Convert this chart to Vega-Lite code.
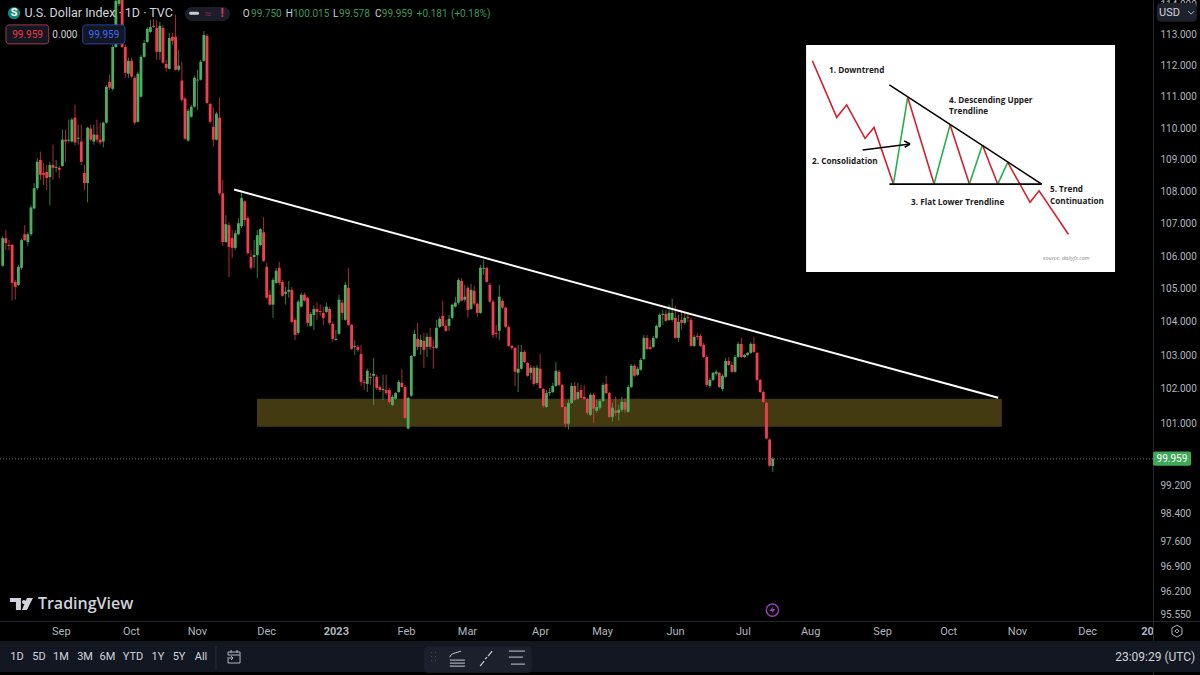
{
"$schema":"https://vega.github.io/schema/vega-lite/v6.json",
"width":1200,"height":675,"autosize":"none","padding":0,"background":"#000000",
"config":{"view":{"stroke":null},"text":{"font":"Roboto"}},
"datasets":{"candles":[
{"b":0,"o":105.70,"c":106.55,"h":106.61,"l":105.67},{"b":1,"o":106.55,"c":106.40,"h":106.80,"l":106.18},{"b":2,"o":106.34,"c":106.31,"h":106.49,"l":106.18},{"b":3,"o":106.34,"c":105.18,"h":106.37,"l":104.64},{"b":4,"o":105.21,"c":105.06,"h":105.27,"l":104.67},{"b":5,"o":105.12,"c":105.67,"h":105.73,"l":105.09},{"b":6,"o":105.64,"c":106.49,"h":106.55,"l":105.58},{"b":7,"o":106.67,"c":106.49,"h":106.95,"l":106.46},{"b":8,"o":106.43,"c":106.67,"h":106.73,"l":106.31},{"b":9,"o":106.67,"c":107.50,"h":107.57,"l":106.61},
{"b":10,"o":107.47,"c":108.10,"h":108.26,"l":107.44},{"b":11,"o":108.10,"c":108.93,"h":109.05,"l":108.04},{"b":12,"o":108.99,"c":108.52,"h":109.25,"l":108.36},{"b":13,"o":108.58,"c":108.52,"h":108.89,"l":108.20},{"b":14,"o":108.61,"c":108.42,"h":108.83,"l":108.04},{"b":15,"o":108.45,"c":108.83,"h":108.93,"l":107.57},{"b":16,"o":108.83,"c":108.74,"h":109.47,"l":108.36},{"b":17,"o":108.74,"c":108.77,"h":108.99,"l":108.61},{"b":18,"o":108.74,"c":108.68,"h":108.80,"l":108.42},{"b":19,"o":108.80,"c":109.63,"h":109.95,"l":108.77},
{"b":20,"o":109.63,"c":109.57,"h":109.95,"l":108.93},{"b":21,"o":109.60,"c":109.63,"h":110.27,"l":109.54},{"b":22,"o":109.57,"c":110.27,"h":110.33,"l":109.54},{"b":23,"o":110.33,"c":109.54,"h":110.74,"l":109.44},{"b":24,"o":109.66,"c":109.69,"h":110.11,"l":109.47},{"b":25,"o":109.57,"c":108.93,"h":110.11,"l":108.83},{"b":26,"o":108.58,"c":108.26,"h":108.83,"l":108.04},{"b":27,"o":108.26,"c":110.01,"h":110.04,"l":107.66},{"b":28,"o":109.98,"c":109.63,"h":110.11,"l":109.57},{"b":29,"o":109.57,"c":109.79,"h":110.11,"l":109.47},
{"b":30,"o":109.79,"c":109.63,"h":110.27,"l":109.54},{"b":31,"o":109.63,"c":109.54,"h":110.17,"l":109.47},{"b":32,"o":109.57,"c":110.17,"h":110.20,"l":109.38},{"b":33,"o":110.17,"c":111.32,"h":111.38,"l":110.14},{"b":34,"o":111.48,"c":111.29,"h":111.71,"l":111.22},{"b":35,"o":111.25,"c":112.61,"h":112.68,"l":111.19},{"b":36,"o":112.61,"c":114.12,"h":114.15,"l":112.58},{"b":37,"o":114.02,"c":114.15,"h":114.15,"l":113.95},{"b":38,"o":114.15,"c":112.61,"h":114.15,"l":112.58},{"b":39,"o":112.61,"c":111.77,"h":112.68,"l":111.61},
{"b":40,"o":111.74,"c":112.16,"h":112.26,"l":111.61},{"b":41,"o":112.16,"c":111.65,"h":112.26,"l":111.61},{"b":42,"o":111.61,"c":110.17,"h":111.68,"l":110.11},{"b":43,"o":110.20,"c":111.74,"h":111.81,"l":110.17},{"b":44,"o":111.0,"c":112.29,"h":112.35,"l":110.97},{"b":45,"o":112.29,"c":112.74,"h":112.84,"l":112.26},{"b":46,"o":112.77,"c":113.20,"h":113.26,"l":112.74},{"b":47,"o":113.10,"c":113.26,"h":113.49,"l":113.07},{"b":48,"o":113.30,"c":113.26,"h":113.52,"l":113.23},{"b":49,"o":113.23,"c":112.45,"h":113.49,"l":112.19},
{"b":50,"o":112.45,"c":113.30,"h":113.43,"l":112.19},{"b":51,"o":113.23,"c":112.10,"h":113.33,"l":112.06},{"b":52,"o":112.06,"c":111.93,"h":112.19,"l":111.81},{"b":53,"o":111.90,"c":112.90,"h":113.07,"l":111.87},{"b":54,"o":112.94,"c":112.81,"h":113.07,"l":112.68},{"b":55,"o":112.94,"c":111.87,"h":113.66,"l":111.84},{"b":56,"o":111.87,"c":112.0,"h":112.52,"l":111.81},{"b":57,"o":111.52,"c":110.90,"h":112.13,"l":110.84},{"b":58,"o":110.94,"c":109.66,"h":111.0,"l":109.63},{"b":59,"o":109.60,"c":110.55,"h":110.62,"l":109.57},
{"b":60,"o":110.36,"c":110.68,"h":110.74,"l":110.33},{"b":61,"o":110.68,"c":111.61,"h":111.68,"l":110.65},{"b":62,"o":111.52,"c":111.55,"h":111.87,"l":110.58},{"b":63,"o":111.55,"c":112.13,"h":112.19,"l":111.52},{"b":64,"o":112.16,"c":113.0,"h":113.13,"l":112.13},{"b":65,"o":112.97,"c":110.80,"h":113.03,"l":110.77},{"b":66,"o":110.77,"c":110.20,"h":110.80,"l":110.14},{"b":67,"o":110.04,"c":109.63,"h":110.65,"l":109.41},{"b":68,"o":109.63,"c":110.46,"h":110.52,"l":109.60},{"b":69,"o":110.33,"c":107.94,"h":110.97,"l":107.88},
{"b":70,"o":107.94,"c":106.43,"h":108.36,"l":106.31},{"b":71,"o":106.43,"c":106.98,"h":107.26,"l":106.40},{"b":72,"o":106.95,"c":106.28,"h":107.04,"l":105.36},{"b":73,"o":106.55,"c":106.25,"h":106.80,"l":105.94},{"b":74,"o":106.25,"c":106.70,"h":106.80,"l":106.18},{"b":75,"o":106.67,"c":107.01,"h":107.16,"l":106.64},{"b":76,"o":106.92,"c":107.79,"h":107.97,"l":106.86},{"b":77,"o":107.69,"c":107.11,"h":107.72,"l":106.92},{"b":78,"o":107.17,"c":106.09,"h":107.23,"l":106.03},{"b":79,"o":105.97,"c":105.64,"h":106.18,"l":105.58},
{"b":80,"o":105.97,"c":106.03,"h":106.49,"l":105.64},{"b":81,"o":106.03,"c":106.64,"h":106.80,"l":105.33},{"b":82,"o":106.34,"c":106.83,"h":106.86,"l":106.31},{"b":83,"o":106.73,"c":105.85,"h":107.20,"l":105.82},{"b":84,"o":105.67,"c":104.73,"h":105.79,"l":104.70},{"b":85,"o":104.82,"c":104.52,"h":104.97,"l":104.49},{"b":86,"o":104.52,"c":105.27,"h":105.33,"l":104.12},{"b":87,"o":105.18,"c":105.55,"h":105.64,"l":105.15},{"b":88,"o":105.64,"c":105.18,"h":105.82,"l":105.12},{"b":89,"o":105.21,"c":104.79,"h":105.27,"l":104.76},
{"b":90,"o":104.85,"c":104.91,"h":105.06,"l":104.52},{"b":91,"o":104.91,"c":104.97,"h":105.24,"l":104.73},{"b":92,"o":104.97,"c":104.0,"h":105.06,"l":103.97},{"b":93,"o":104.06,"c":103.61,"h":104.12,"l":103.46},{"b":94,"o":103.67,"c":104.61,"h":104.67,"l":103.61},{"b":95,"o":104.46,"c":104.82,"h":104.88,"l":104.43},{"b":96,"o":104.82,"c":104.64,"h":104.88,"l":104.61},{"b":97,"o":104.73,"c":103.97,"h":104.76,"l":103.85},{"b":98,"o":103.88,"c":104.24,"h":104.30,"l":103.85},{"b":99,"o":104.21,"c":104.39,"h":104.49,"l":103.76},
{"b":100,"o":104.39,"c":104.30,"h":104.58,"l":104.06},{"b":101,"o":104.33,"c":104.30,"h":104.52,"l":104.18},{"b":102,"o":104.27,"c":104.12,"h":104.46,"l":103.91},{"b":103,"o":104.30,"c":104.46,"h":104.58,"l":104.27},{"b":104,"o":104.39,"c":103.97,"h":104.46,"l":103.91},{"b":105,"o":103.94,"c":103.49,"h":104.0,"l":103.40},{"b":106,"o":103.46,"c":103.49,"h":103.76,"l":103.43},{"b":107,"o":103.64,"c":104.67,"h":104.82,"l":103.61},{"b":108,"o":104.58,"c":104.27,"h":104.67,"l":104.06},{"b":109,"o":104.06,"c":105.12,"h":105.21,"l":104.03},
{"b":110,"o":105.03,"c":103.91,"h":105.64,"l":103.88},{"b":111,"o":103.91,"c":103.19,"h":103.94,"l":103.16},{"b":112,"o":103.25,"c":103.28,"h":103.46,"l":103.01},{"b":113,"o":103.25,"c":103.16,"h":103.31,"l":103.10},{"b":114,"o":103.04,"c":102.21,"h":103.31,"l":102.09},{"b":115,"o":102.21,"c":102.18,"h":102.27,"l":101.97},{"b":116,"o":102.15,"c":102.54,"h":102.60,"l":101.91},{"b":117,"o":102.36,"c":102.33,"h":102.48,"l":102.12},{"b":118,"o":102.39,"c":102.45,"h":102.92,"l":101.53},{"b":119,"o":102.36,"c":102.03,"h":102.42,"l":101.97},
{"b":120,"o":102.06,"c":101.97,"h":102.12,"l":101.91},{"b":121,"o":101.97,"c":102.0,"h":102.42,"l":101.68},{"b":122,"o":101.97,"c":101.88,"h":102.42,"l":101.83},{"b":123,"o":101.97,"c":101.62,"h":102.03,"l":101.56},{"b":124,"o":101.53,"c":101.77,"h":101.83,"l":101.50},{"b":125,"o":101.71,"c":101.88,"h":101.91,"l":101.68},{"b":126,"o":101.91,"c":102.21,"h":102.27,"l":101.88},{"b":127,"o":102.18,"c":102.06,"h":102.60,"l":102.03},{"b":128,"o":102.06,"c":101.15,"h":102.12,"l":101.13},{"b":129,"o":100.84,"c":101.74,"h":101.77,"l":100.81},
{"b":130,"o":101.80,"c":102.98,"h":103.01,"l":101.77},{"b":131,"o":102.98,"c":103.64,"h":103.76,"l":102.95},{"b":132,"o":103.49,"c":103.25,"h":103.97,"l":103.16},{"b":133,"o":103.25,"c":103.46,"h":103.61,"l":103.01},{"b":134,"o":103.43,"c":103.16,"h":103.67,"l":102.63},{"b":135,"o":103.25,"c":103.55,"h":103.67,"l":102.95},{"b":136,"o":103.55,"c":103.25,"h":103.82,"l":103.16},{"b":137,"o":103.25,"c":103.22,"h":103.46,"l":102.60},{"b":138,"o":103.22,"c":103.82,"h":104.06,"l":103.19},{"b":139,"o":103.85,"c":104.09,"h":104.15,"l":103.82},
{"b":140,"o":104.18,"c":103.88,"h":104.64,"l":103.85},{"b":141,"o":103.88,"c":103.73,"h":104.06,"l":103.70},{"b":142,"o":103.88,"c":104.09,"h":104.21,"l":103.73},{"b":143,"o":104.12,"c":104.52,"h":104.55,"l":104.09},{"b":144,"o":104.46,"c":104.58,"h":104.76,"l":104.43},{"b":145,"o":104.58,"c":105.27,"h":105.33,"l":104.52},{"b":146,"o":105.24,"c":104.64,"h":105.33,"l":104.61},{"b":147,"o":104.67,"c":104.76,"h":105.12,"l":104.61},{"b":148,"o":105.03,"c":104.36,"h":105.09,"l":104.12},{"b":149,"o":104.39,"c":104.97,"h":105.15,"l":104.36},
{"b":150,"o":104.94,"c":104.55,"h":105.09,"l":104.49},{"b":151,"o":104.55,"c":104.27,"h":104.58,"l":104.15},{"b":152,"o":104.27,"c":105.64,"h":105.73,"l":104.24},{"b":153,"o":105.61,"c":105.64,"h":105.88,"l":105.42},{"b":154,"o":105.64,"c":105.21,"h":105.67,"l":105.18},{"b":155,"o":105.12,"c":104.61,"h":105.18,"l":104.58},{"b":156,"o":104.61,"c":103.61,"h":104.67,"l":103.52},{"b":157,"o":103.67,"c":103.64,"h":103.91,"l":103.52},{"b":158,"o":103.73,"c":104.76,"h":105.12,"l":103.46},{"b":159,"o":104.64,"c":104.43,"h":104.70,"l":104.39},
{"b":160,"o":104.43,"c":103.85,"h":104.46,"l":103.82},{"b":161,"o":103.85,"c":103.28,"h":103.88,"l":103.25},{"b":162,"o":103.28,"c":103.22,"h":103.31,"l":103.16},{"b":163,"o":103.22,"c":102.51,"h":103.25,"l":102.09},{"b":164,"o":102.48,"c":102.60,"h":103.31,"l":101.91},{"b":165,"o":102.60,"c":103.10,"h":103.31,"l":102.57},{"b":166,"o":103.10,"c":102.80,"h":103.16,"l":102.77},{"b":167,"o":102.77,"c":102.39,"h":102.80,"l":102.36},{"b":168,"o":102.48,"c":102.63,"h":102.71,"l":102.27},{"b":169,"o":102.63,"c":102.15,"h":102.69,"l":102.09},
{"b":170,"o":102.18,"c":102.63,"h":102.71,"l":102.12},{"b":171,"o":102.60,"c":102.03,"h":103.04,"l":102.0},{"b":172,"o":102.0,"c":101.50,"h":102.03,"l":101.45},{"b":173,"o":101.47,"c":101.88,"h":101.97,"l":101.45},{"b":174,"o":101.88,"c":101.91,"h":102.03,"l":101.80},{"b":175,"o":101.91,"c":102.09,"h":102.18,"l":101.88},{"b":176,"o":102.09,"c":102.54,"h":102.80,"l":102.06},{"b":177,"o":102.51,"c":102.12,"h":102.57,"l":102.09},{"b":178,"o":102.12,"c":101.47,"h":102.15,"l":101.45},{"b":179,"o":101.47,"c":100.98,"h":101.50,"l":100.87},
{"b":180,"o":100.98,"c":101.59,"h":101.68,"l":100.81},{"b":181,"o":101.59,"c":102.09,"h":102.18,"l":101.56},{"b":182,"o":102.09,"c":101.68,"h":102.21,"l":101.65},{"b":183,"o":101.71,"c":101.91,"h":102.18,"l":101.68},{"b":184,"o":101.97,"c":101.74,"h":102.12,"l":101.71},{"b":185,"o":101.77,"c":101.71,"h":102.12,"l":101.68},{"b":186,"o":101.71,"c":101.30,"h":101.74,"l":101.24},{"b":187,"o":101.24,"c":101.83,"h":101.88,"l":101.21},{"b":188,"o":101.83,"c":101.42,"h":101.88,"l":101.01},{"b":189,"o":101.36,"c":101.47,"h":101.68,"l":101.30},
{"b":190,"o":101.45,"c":101.65,"h":101.71,"l":101.39},{"b":191,"o":101.65,"c":102.12,"h":102.18,"l":101.62},{"b":192,"o":102.15,"c":101.88,"h":102.39,"l":101.85},{"b":193,"o":101.88,"c":101.18,"h":101.91,"l":101.15},{"b":194,"o":101.18,"c":101.45,"h":101.59,"l":101.04},{"b":195,"o":101.36,"c":101.30,"h":101.77,"l":101.21},{"b":196,"o":101.30,"c":101.39,"h":101.53,"l":101.07},{"b":197,"o":101.39,"c":101.62,"h":101.77,"l":101.33},{"b":198,"o":101.62,"c":101.39,"h":101.74,"l":101.30},{"b":199,"o":101.33,"c":102.06,"h":102.12,"l":101.30},
{"b":200,"o":102.06,"c":102.69,"h":102.74,"l":102.03},{"b":201,"o":102.69,"c":102.39,"h":102.74,"l":102.36},{"b":202,"o":102.42,"c":102.60,"h":102.66,"l":102.39},{"b":203,"o":102.57,"c":102.86,"h":102.92,"l":102.54},{"b":204,"o":102.89,"c":103.52,"h":103.61,"l":102.86},{"b":205,"o":103.52,"c":103.19,"h":103.61,"l":103.16},{"b":206,"o":103.25,"c":103.19,"h":103.46,"l":103.16},{"b":207,"o":103.25,"c":103.52,"h":103.58,"l":103.22},{"b":208,"o":103.52,"c":103.88,"h":103.91,"l":103.49},{"b":209,"o":103.85,"c":104.21,"h":104.27,"l":103.82},
{"b":210,"o":104.21,"c":104.24,"h":104.36,"l":103.91},{"b":211,"o":104.24,"c":104.03,"h":104.36,"l":104.0},{"b":212,"o":104.06,"c":104.27,"h":104.52,"l":104.03},{"b":213,"o":104.06,"c":104.27,"h":104.70,"l":104.0},{"b":214,"o":104.12,"c":103.52,"h":104.49,"l":103.49},{"b":215,"o":103.52,"c":104.0,"h":104.21,"l":103.40},{"b":216,"o":104.06,"c":103.97,"h":104.36,"l":103.76},{"b":217,"o":103.97,"c":104.12,"h":104.30,"l":103.91},{"b":218,"o":104.15,"c":104.12,"h":104.27,"l":104.0},{"b":219,"o":104.06,"c":103.28,"h":104.12,"l":103.25},
{"b":220,"o":103.28,"c":103.55,"h":103.61,"l":103.25},{"b":221,"o":103.58,"c":103.55,"h":103.67,"l":103.46},{"b":222,"o":103.58,"c":103.28,"h":103.64,"l":103.25},{"b":223,"o":103.31,"c":102.95,"h":103.37,"l":102.92},{"b":224,"o":102.95,"c":102.12,"h":103.01,"l":102.06},{"b":225,"o":102.09,"c":102.27,"h":102.33,"l":102.03},{"b":226,"o":102.27,"c":102.48,"h":102.51,"l":102.24},{"b":227,"o":102.45,"c":102.51,"h":102.57,"l":102.39},{"b":228,"o":102.48,"c":102.06,"h":102.51,"l":102.03},{"b":229,"o":102.0,"c":102.39,"h":102.45,"l":101.94},
{"b":230,"o":102.36,"c":102.83,"h":102.92,"l":102.33},{"b":231,"o":102.83,"c":102.71,"h":102.95,"l":102.69},{"b":232,"o":102.71,"c":102.51,"h":102.80,"l":102.48},{"b":233,"o":102.51,"c":102.95,"h":103.01,"l":102.48},{"b":234,"o":102.95,"c":103.34,"h":103.40,"l":102.92},{"b":235,"o":103.34,"c":102.95,"h":103.52,"l":102.92},{"b":236,"o":102.95,"c":103.01,"h":103.04,"l":102.92},{"b":237,"o":103.01,"c":103.07,"h":103.10,"l":102.98},{"b":238,"o":103.07,"c":103.34,"h":103.40,"l":103.04},{"b":239,"o":103.34,"c":103.10,"h":103.55,"l":103.07},
{"b":240,"o":103.07,"c":102.27,"h":103.10,"l":102.24},{"b":241,"o":102.27,"c":101.91,"h":102.30,"l":101.88},{"b":242,"o":101.91,"c":101.62,"h":101.94,"l":101.59},{"b":243,"o":101.59,"c":100.55,"h":101.62,"l":100.52},{"b":244,"o":100.52,"c":99.76,"h":100.55,"l":99.73},{"b":245,"o":99.75,"c":99.959,"h":100.015,"l":99.578}
]},
"encoding":{
"x":{"field":"b","type":"quantitative","scale":{"domain":[-0.86,380.93],"nice":false,"zero":false},
"axis":{"orient":"bottom","offset":-54,"title":null,"grid":false,"ticks":false,"labelPadding":4,"domainColor":"#23262f","labelColor":"#b2b5be","labelFont":"Roboto","labelFontSize":11,"labelOverlap":false,"labelBound":false,"labelFlush":false,
"values":[18.5,40.8,61.8,83.8,106,128.3,147.7,171,190.7,213.9,235.5,256.9,279.8,300.8,322.7,345,364.1],
"labelExpr":"['Sep','Oct','Nov','Dec','2023','Feb','Mar','Apr','May','Jun','Jul','Aug','Sep','Oct','Nov','Dec','20'][indexof([18.5,40.8,61.8,83.8,106,128.3,147.7,171,190.7,213.9,235.5,256.9,279.8,300.8,322.7,345,364.1],datum.value)]",
"labelFontWeight":{"condition":{"test":"datum.value==106||datum.value==364.1","value":"bold"},"value":"normal"}}},
"y":{"field":"p","type":"quantitative","scale":{"type":"log","domain":[93.9,114.15],"nice":false},
"axis":{"orient":"right","offset":-47,"title":null,"grid":false,"ticks":false,"labelPadding":7,"domainColor":"#23262f","labelColor":"#b2b5be","labelFont":"Roboto","labelFontSize":10,"labelOverlap":false,"labelBound":false,"labelFlush":false,"format":".3f",
"values":[114,113,112,111,110,109,108,107,106,105,104,103,102,101,99.2,98.4,97.6,96.9,96.2,95.55]}}
},
"layer":[
{"data":{"values":[{"b":80.9,"b2":317.9,"p":101.71,"p2":100.89}]},"mark":{"type":"rect","fill":"#433a12"},"encoding":{"x2":{"field":"b2"},"y2":{"field":"p2"}}},
{"data":{"values":[{"b":-0.86,"b2":366,"p":99.959}]},"mark":{"type":"rule","stroke":"#787b86","strokeWidth":1,"strokeDash":[1,2]},"encoding":{"x2":{"field":"b2"}}},
{"data":{"name":"candles"},"mark":{"type":"rule","strokeWidth":1,"opacity":0.7},"encoding":{"y":{"field":"h","type":"quantitative","scale":{"type":"log","domain":[93.9,114.15],"nice":false},"axis":{"orient":"right","offset":-47,"title":null,"grid":false,"ticks":false,"labelPadding":7,"domainColor":"#23262f","labelColor":"#b2b5be","labelFont":"Roboto","labelFontSize":10,"labelOverlap":false,"labelBound":false,"labelFlush":false,"format":".3f","values":[114,113,112,111,110,109,108,107,106,105,104,103,102,101,99.2,98.4,97.6,96.9,96.2,95.55]}},"y2":{"field":"l"},"color":{"condition":{"test":"datum.c>=datum.o","value":"#4caf60"},"value":"#f23d4f"}}},
{"data":{"name":"candles"},"mark":{"type":"rule","strokeWidth":2.8},"encoding":{"y":{"field":"o","type":"quantitative","scale":{"type":"log","domain":[93.9,114.15],"nice":false},"axis":{"orient":"right","offset":-47,"title":null,"grid":false,"ticks":false,"labelPadding":7,"domainColor":"#23262f","labelColor":"#b2b5be","labelFont":"Roboto","labelFontSize":10,"labelOverlap":false,"labelBound":false,"labelFlush":false,"format":".3f","values":[114,113,112,111,110,109,108,107,106,105,104,103,102,101,99.2,98.4,97.6,96.9,96.2,95.55]}},"y2":{"field":"c"},"color":{"condition":{"test":"datum.c>=datum.o","value":"#4caf60"},"value":"#f23d4f"}}},
{"data":{"values":[{"b":73.6,"p":108.06},{"b":316.7,"p":101.74}]},"mark":{"type":"line","stroke":"#ffffff","strokeWidth":2}},
{"data":{"values":[{"b":255.6,"b2":353.9,"p":112.67,"p2":105.51}]},"mark":{"type":"rect","fill":"#ffffff"},"encoding":{"x2":{"field":"b2"},"y2":{"field":"p2"}}},
{"data":{"values":[
{"s":"r1","k":"red","b":257.60,"p":112.16},{"s":"r1","k":"red","b":265.35,"p":110.34},{"s":"r1","k":"red","b":268.53,"p":110.74},{"s":"r1","k":"red","b":274.36,"p":109.67},{"s":"r1","k":"red","b":277.23,"p":110.02},{"s":"r1","k":"red","b":283.38,"p":108.23},
{"s":"g1","k":"green","b":283.38,"p":108.23},{"s":"g1","k":"green","b":287.94,"p":110.98},
{"s":"r2","k":"red","b":287.94,"p":110.98},{"s":"r2","k":"red","b":296.32,"p":108.23},
{"s":"g2","k":"green","b":296.32,"p":108.23},{"s":"g2","k":"green","b":301.41,"p":110.10},
{"s":"r3","k":"red","b":301.41,"p":110.10},{"s":"r3","k":"red","b":307.56,"p":108.23},
{"s":"g3","k":"green","b":307.56,"p":108.23},{"s":"g3","k":"green","b":311.70,"p":109.46},
{"s":"r4","k":"red","b":311.70,"p":109.46},{"s":"r4","k":"red","b":316.57,"p":108.23},
{"s":"g4","k":"green","b":316.57,"p":108.23},{"s":"g4","k":"green","b":319.76,"p":108.91},
{"s":"r5","k":"red","b":319.76,"p":108.91},{"s":"r5","k":"red","b":326.86,"p":107.66},{"s":"r5","k":"red","b":329.73,"p":108.02},{"s":"r5","k":"red","b":339.06,"p":106.67},
{"s":"k1","k":"black","b":282.10,"p":111.38},{"s":"k1","k":"black","b":330.57,"p":108.23},
{"s":"k2","k":"black","b":282.10,"p":108.23},{"s":"k2","k":"black","b":330.57,"p":108.23},
{"s":"k3","k":"black","b":273.62,"p":109.30},{"s":"k3","k":"black","b":288.68,"p":109.49},
{"s":"k4","k":"black","b":286.77,"p":109.59},{"s":"k4","k":"black","b":288.68,"p":109.49},
{"s":"k5","k":"black","b":286.98,"p":109.39},{"s":"k5","k":"black","b":288.68,"p":109.49}
]},"mark":{"type":"line","strokeWidth":1.6},"encoding":{"detail":{"field":"s"},"color":{"field":"k","type":"nominal","legend":null,"scale":{"domain":["red","green","black"],"range":["#d3202f","#22b14c","#000000"]}}}},
{"data":{"values":[
{"t":"1. Downtrend","b":262.9,"p":111.83},{"t":"4. Descending Upper","b":301.1,"p":110.86},{"t":"Trendline","b":301.1,"p":110.51},{"t":"2. Consolidation","b":257.5,"p":108.92},{"t":"3. Flat Lower Trendline","b":289,"p":107.64},{"t":"5. Trend","b":333.2,"p":108.05},{"t":"Continuation","b":333.2,"p":107.67}
]},"mark":{"type":"text","align":"left","baseline":"middle","font":"Open Sans","fontWeight":"bold","fontSize":8.2,"fill":"#1a1a1a"},"encoding":{"text":{"field":"t"}}},
{"data":{"values":[{"t":"source: dailyfx.com","b":331,"p":105.94}]},"mark":{"type":"text","align":"left","baseline":"middle","font":"Open Sans","fontStyle":"italic","fontSize":5.5,"fill":"#8a8a8a"},"encoding":{"text":{"field":"t"}}},

{"data":{"values":[{"b":-0.86,"b2":380.93,"p":94.83,"p2":93.98}]},"mark":{"type":"rect","fill":"#131722"},"encoding":{"x2":{"field":"b2"},"y2":{"field":"p2"}}},
{"data":{"values":[{"b":134.05,"b2":168.4,"p":94.67,"p2":93.96}]},"mark":{"type":"rect","fill":"#1c202c","cornerRadius":4},"encoding":{"x2":{"field":"b2"},"y2":{"field":"p2"}}},
{"data":{"values":[{"b":67.86,"p":94.7,"p2":94.05}]},"mark":{"type":"rule","stroke":"#2a2e39","strokeWidth":1},"encoding":{"y2":{"field":"p2"}}},
{"data":{"values":[{"t":"1D","b":4.55,"p":94.39},{"t":"5D","b":11.55,"p":94.39},{"t":"1M","b":18.55,"p":94.39},{"t":"3M","b":26.2,"p":94.39},{"t":"6M","b":33.34,"p":94.39},{"t":"YTD","b":41.46,"p":94.39},{"t":"1Y","b":49.41,"p":94.39},{"t":"5Y","b":56.1,"p":94.39},{"t":"All","b":63.1,"p":94.39}]},"mark":{"type":"text","baseline":"middle","fontSize":11,"fill":"#d1d4dc"},"encoding":{"text":{"field":"t"}}},
{"data":{"values":[{"t":"23:09:29 (UTC)","b":379.4,"p":94.39}]},"mark":{"type":"text","align":"right","baseline":"middle","fontSize":12,"fill":"#d1d4dc"},"encoding":{"text":{"field":"t"}}},
{"data":{"values":[{"b":73.6,"p":94.39}]},"mark":{"type":"point","shape":"M-6,-5H6V6H-6V2M-6,-2V-5M-6,-2H6M-3,-7V-4M3,-7V-4M-7,1H-1M-3,-1L-1,1L-3,3","size":4,"filled":false,"stroke":"#b2b5be","strokeWidth":1,"opacity":1}},
{"data":{"values":[{"b":136.9,"p":94.39}]},"mark":{"type":"point","shape":"M-2,-5h1v1h-1zM2,-5h1v1h-1zM-2,-1h1v1h-1zM2,-1h1v1h-1zM-2,3h1v1h-1zM2,3h1v1h-1z","size":4,"filled":true,"fill":"#4a4e5a","opacity":1}},
{"data":{"values":[{"b":144.5,"p":94.36}]},"mark":{"type":"point","shape":"M-7,-1C-6,-5 -1,-5 4,-7M-7,2H8M-7,5H8M-7,8H8","size":4,"filled":false,"stroke":"#c8cbd3","strokeWidth":1,"opacity":1}},
{"data":{"values":[{"b":153.8,"p":94.36}]},"mark":{"type":"point","shape":"M-6,8L-2,3M-1,1L1,-1M2,-2L6,-7","size":4,"filled":false,"stroke":"#c8cbd3","strokeWidth":1.2,"opacity":1}},
{"data":{"values":[{"b":163.6,"p":94.36}]},"mark":{"type":"point","shape":"M-8,-7H8M-8,-1H6M-6,6H8","size":4,"filled":false,"stroke":"#c8cbd3","strokeWidth":1,"opacity":1}},

{"data":{"values":[{"b":373.6,"p":95.10}]},"mark":{"type":"point","shape":"M0,-6L5,-3V3L0,6L-5,3V-3ZM0,-2L2,0L0,2L-2,0Z","size":4,"filled":false,"stroke":"#b2b5be","strokeWidth":1,"opacity":1}},
{"data":{"values":[{"b":244.9,"p":95.68}]},"mark":{"type":"point","shape":"circle","size":150,"filled":false,"stroke":"#9b3fbf","strokeWidth":1.4,"opacity":1}},
{"data":{"values":[{"b":244.9,"p":95.68}]},"mark":{"type":"point","shape":"M1,-4L-3,1H0L-1,4L3,-1H0Z","size":4,"filled":true,"fill":"#9b3fbf","opacity":1}},
{"data":{"values":[{"b":5.8,"p":95.85}]},"mark":{"type":"point","shape":"M-11,-6H0V6H-5V-2H-11ZM3,-4a2,2 0 1 1 -0.01,0ZM1,6L6,-6H12L6,6Z","size":4,"filled":true,"fill":"#d1d4dc","opacity":1}},
{"data":{"values":[{"t":"TradingView","b":11.2,"p":95.85}]},"mark":{"type":"text","align":"left","baseline":"middle","font":"Open Sans","fontWeight":600,"fontSize":16,"fill":"#d1d4dc"},"encoding":{"text":{"field":"t"}}},

{"data":{"values":[{"b":366,"b2":378.1,"p":100.17,"p2":99.76}]},"mark":{"type":"rect","fill":"#3fa858","cornerRadius":2},"encoding":{"x2":{"field":"b2"},"y2":{"field":"p2"}}},
{"data":{"values":[{"t":"99.959","b":372,"p":99.96}]},"mark":{"type":"text","baseline":"middle","fontSize":10,"fill":"#ffffff"},"encoding":{"text":{"field":"t"}}},
{"data":{"values":[{"b":367.2,"b2":379.9,"p":114.05,"p2":113.43}]},"mark":{"type":"rect","fill":"#1e222d","cornerRadius":4},"encoding":{"x2":{"field":"b2"},"y2":{"field":"p2"}}},
{"data":{"values":[{"t":"USD","b":367.9,"p":113.72}]},"mark":{"type":"text","align":"left","baseline":"middle","fontSize":11,"fill":"#d1d4dc"},"encoding":{"text":{"field":"t"}}},
{"data":{"values":[{"b":378.1,"p":113.75}]},"mark":{"type":"point","shape":"M-3,-1L0,2L3,-1","size":4,"filled":false,"stroke":"#b2b5be","strokeWidth":1,"opacity":1}},

{"data":{"values":[{"b":3.6,"p":113.72}]},"mark":{"type":"point","shape":"circle","size":150,"filled":true,"fill":"#13897a","opacity":1}},
{"data":{"values":[{"t":"S","b":3.6,"p":113.72}]},"mark":{"type":"text","baseline":"middle","fontSize":11,"fontWeight":"bold","fill":"#ffffff"},"encoding":{"text":{"field":"t"}}},
{"data":{"values":[{"t":"U.S. Dollar Index · 1D · TVC","b":6.9,"p":113.72}]},"mark":{"type":"text","align":"left","baseline":"middle","fontSize":12.5,"fill":"#d1d4dc"},"encoding":{"text":{"field":"t"}}},
{"data":{"values":[{"b":58,"b2":72.3,"p":113.92,"p2":113.46}]},"mark":{"type":"rect","fill":"#1b1e29","cornerRadius":7},"encoding":{"x2":{"field":"b2"},"y2":{"field":"p2"}}},
{"data":{"values":[{"b":59.3,"b2":62.5,"p":113.76,"p2":113.66}]},"mark":{"type":"rect","fill":"#c8cbd3","cornerRadius":2},"encoding":{"x2":{"field":"b2"},"y2":{"field":"p2"}}},
{"data":{"values":[{"t":"≈","b":65.3,"p":113.70}]},"mark":{"type":"text","baseline":"middle","fontSize":12,"fill":"#8c1d4a"},"encoding":{"text":{"field":"t"}}},
{"data":{"values":[{"t":"!","b":69.8,"p":113.72}]},"mark":{"type":"text","baseline":"middle","fontSize":12,"fontWeight":"bold","fill":"#e0325a"},"encoding":{"text":{"field":"t"}}},
{"data":{"values":[{"t":"O","b":76.36,"p":113.69},{"t":"H","b":90.04,"p":113.69},{"t":"L","b":105.1,"p":113.69},{"t":"C","b":118.46,"p":113.69}]},"mark":{"type":"text","align":"left","baseline":"middle","fontSize":10,"fill":"#d1d4dc"},"encoding":{"text":{"field":"t"}}},
{"data":{"values":[{"t":"99.750","b":79.0,"p":113.69},{"t":"100.015","b":92.36,"p":113.69},{"t":"99.578","b":107.0,"p":113.69},{"t":"99.959","b":120.6,"p":113.69},{"t":"+0.181","b":131.72,"p":113.69},{"t":"(+0.18%)","b":142.63,"p":113.69}]},"mark":{"type":"text","align":"left","baseline":"middle","fontSize":10,"fill":"#3d9a55"},"encoding":{"text":{"field":"t"}}},
{"data":{"values":[{"b":1.05,"b2":14.64,"p":113.33,"p2":112.71}]},"mark":{"type":"rect","fill":"#131722","stroke":"#a33a4a","cornerRadius":3},"encoding":{"x2":{"field":"b2"},"y2":{"field":"p2"}}},
{"data":{"values":[{"b":25.45,"b2":38.9,"p":113.33,"p2":112.71}]},"mark":{"type":"rect","fill":"#131722","stroke":"#2a3f9f","cornerRadius":3},"encoding":{"x2":{"field":"b2"},"y2":{"field":"p2"}}},
{"data":{"values":[{"t":"99.959","b":7.9,"p":113.0}]},"mark":{"type":"text","baseline":"middle","fontSize":10,"fill":"#f23645"},"encoding":{"text":{"field":"t"}}},
{"data":{"values":[{"t":"0.000","b":19.8,"p":113.0}]},"mark":{"type":"text","baseline":"middle","fontSize":10,"fill":"#d1d4dc"},"encoding":{"text":{"field":"t"}}},
{"data":{"values":[{"t":"99.959","b":32.2,"p":113.0}]},"mark":{"type":"text","baseline":"middle","fontSize":10,"fill":"#3f6bff"},"encoding":{"text":{"field":"t"}}}
]}
